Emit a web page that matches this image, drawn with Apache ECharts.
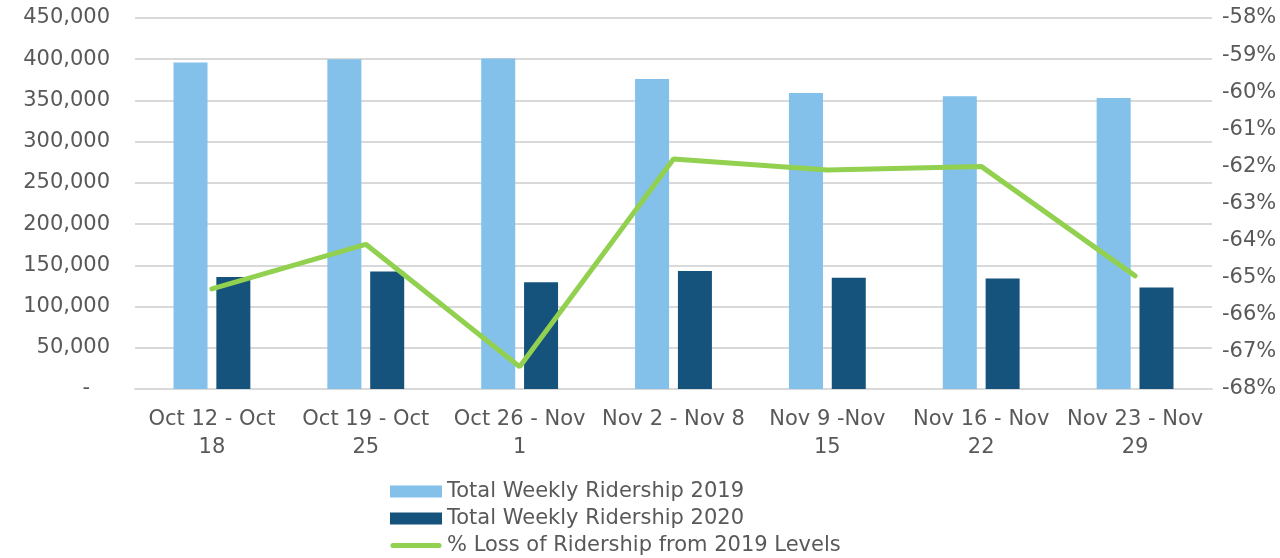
<!DOCTYPE html>
<html>
<head>
<meta charset="utf-8">
<script src="https://cdn.jsdelivr.net/npm/echarts@6/dist/echarts.min.js"></script>
<style>
  html, body { margin: 0; padding: 0; background: #fff; }
  #chart { width: 1280px; height: 558px; }
</style>
</head>
<body>
<div id="chart"></div>
<script>
// week labels (wrapped like the original)
const weeks = [
  "Oct 12 - Oct\n18",
  "Oct 19 - Oct\n25",
  "Oct 26 - Nov\n1",
  "Nov 2 - Nov 8",
  "Nov 9 -Nov\n15",
  "Nov 16 - Nov\n22",
  "Nov 23 - Nov\n29",
];
const ridership2019 = [396000, 400000, 401000, 376000, 359000, 355000, 353000];
const ridership2020 = [136000, 142500, 129500, 143000, 135000, 134000, 123000];
const lossPct = [-65.3, -64.1, -67.4, -61.8, -62.1, -62.0, -64.95];

const textColor = "#595959";
const font = "DejaVu Sans, sans-serif";
const fs = 21;

// thick rounded line for the legend (extra moveTo points keep the 52x12 box)
const lineIcon =
  "path://M0,0 M52,12 M3,3.5 H49 A2.5,2.5 0 0 1 49,8.5 H3 A2.5,2.5 0 0 1 3,3.5 Z";

var myChart = echarts.init(document.getElementById("chart"));

var option = {
  animation: false,
  textStyle: { fontFamily: font },
  grid: { left: 135, right: 68, top: 18, bottom: 169 },
  legend: {
    orient: "vertical",
    left: 390,
    top: 481,
    height: 77,
    padding: 0,
    itemWidth: 52,
    itemHeight: 12,
    itemGap: 6,
    textStyle: { color: textColor, fontSize: fs, fontFamily: font },
    data: [
      { name: "Total Weekly Ridership 2019", icon: "rect" },
      { name: "Total Weekly Ridership 2020", icon: "rect" },
      { name: "% Loss of Ridership from 2019 Levels", icon: lineIcon },
    ],
  },
  xAxis: {
    type: "category",
    data: weeks,
    axisTick: { show: false },
    axisLine: { lineStyle: { color: "#D9D9D9", width: 2 } },
    axisLabel: {
      color: textColor,
      fontSize: fs,
      lineHeight: 28,
      margin: 17,
      interval: 0,
    },
  },
  yAxis: [
    {
      type: "value",
      min: 0,
      max: 450000,
      interval: 50000,
      axisLine: { show: false },
      axisTick: { show: false },
      splitLine: { lineStyle: { color: "#D9D9D9", width: 2 } },
      axisLabel: {
        color: textColor,
        fontSize: fs,
        margin: 25,
        formatter: function (v) {
          return v === 0 ? "-   " : v.toLocaleString("en-US");
        },
      },
    },
    {
      type: "value",
      min: -68,
      max: -58,
      interval: 1,
      axisLine: { show: false },
      axisTick: { show: false },
      splitLine: { show: false },
      axisLabel: {
        color: textColor,
        fontSize: fs,
        margin: 10,
        formatter: function (v) {
          return Math.round(v) + "%";
        },
      },
    },
  ],
  series: [
    {
      name: "Total Weekly Ridership 2019",
      type: "bar",
      data: ridership2019,
      barWidth: 34,
      barGap: "26%",
      itemStyle: { color: "#83C0EA" },
    },
    {
      name: "Total Weekly Ridership 2020",
      type: "bar",
      data: ridership2020,
      barWidth: 34,
      itemStyle: { color: "#15527C" },
    },
    {
      name: "% Loss of Ridership from 2019 Levels",
      type: "line",
      yAxisIndex: 1,
      data: lossPct,
      symbol: "none",
      lineStyle: { color: "#92D050", width: 5, cap: "round" },
      itemStyle: { color: "#92D050" },
    },
  ],
};

myChart.setOption(option);
</script>
</body>
</html>
